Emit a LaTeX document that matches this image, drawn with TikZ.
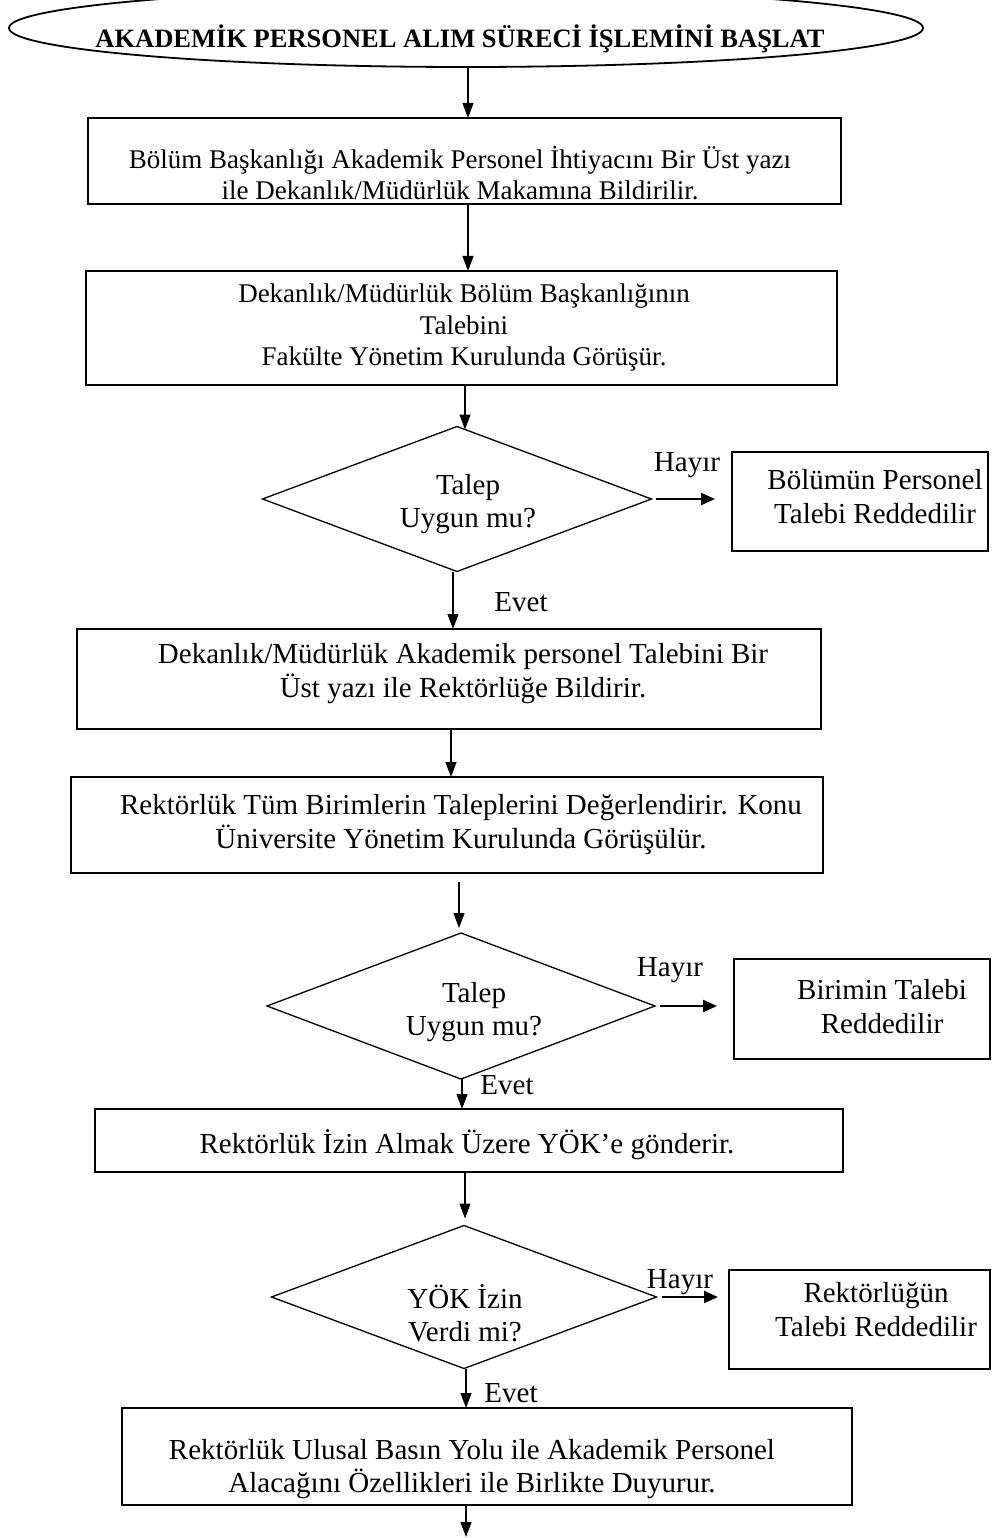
\documentclass[tikz,border=0pt]{standalone}
\usepackage{fontspec}
\setmainfont{Liberation Serif}
\usetikzlibrary{shapes.geometric,arrows.meta,calc}
\begin{document}
\begin{tikzpicture}[x=1pt,y=-1pt,
  box/.style={draw, line width=1.6pt, rectangle, inner sep=0pt, outer sep=0pt},
  decision/.style={draw, line width=1.3pt, diamond, inner sep=0pt, outer sep=0pt},
  startshape/.style={draw, line width=1.8pt, ellipse, inner sep=0pt, outer sep=0pt},
  txt/.style={align=center, inner sep=0pt, font=\fontsize{29}{33.5}\selectfont},
  smalltxt/.style={align=center, inner sep=0pt, font=\fontsize{27}{31.5}\selectfont},
  lbl/.style={inner sep=0pt, font=\fontsize{29}{33.5}\selectfont},
  arr/.style={line width=1.2pt, -{Triangle[length=15pt,width=11pt]}},
  harr/.style={line width=2.2pt, -{Triangle[length=14pt,width=12pt]}}
]
\useasboundingbox (0,0) rectangle (991,1538);
\fill[white] (0,0) rectangle (991,1538);

% start ellipse
\node[startshape, minimum width=914pt, minimum height=78pt] (e) at (466,28) {};
\node[inner sep=0pt, font=\fontsize{26.5}{30}\selectfont\bfseries] (et) at (460,39) {AKADEMİK PERSONEL ALIM SÜRECİ İŞLEMİNİ BAŞLAT};

% process boxes
\node[box, minimum width=753pt, minimum height=86pt] (b1) at (464.5,161) {};
\node[smalltxt] (b1t) at (460,173) {Bölüm Başkanlığı Akademik Personel İhtiyacını Bir Üst yazı\\ile Dekanlık/Müdürlük Makamına Bildirilir.};

\node[box, minimum width=751pt, minimum height=114pt] (b2) at (461.5,328) {};
\node[smalltxt] (b2t) at (464,328) {Dekanlık/Müdürlük Bölüm Başkanlığının\\Talebini\\Fakülte Yönetim Kurulunda Görüşür.};

\node[box, minimum width=744pt, minimum height=100pt] (b3) at (449,679) {};
\node[txt] (b3t) at (463,673.5) {Dekanlık/Müdürlük Akademik personel Talebini Bir\\Üst yazı ile Rektörlüğe Bildirir.};

\node[box, minimum width=752pt, minimum height=96pt] (b4) at (447,825) {};
\node[txt] (b4t) at (461,824.5) {Rektörlük Tüm Birimlerin Taleplerini Değerlendirir. Konu\\Üniversite Yönetim Kurulunda Görüşülür.};

\node[box, minimum width=748pt, minimum height=63pt] (b5) at (469,1140.5) {};
\node[txt] (b5t) at (467,1145) {Rektörlük İzin Almak Üzere YÖK’e gönderir.};

\node[box, minimum width=730pt, minimum height=97pt] (b6) at (487,1456.5) {};
\node[txt] (b6t) at (472,1469) {Rektörlük Ulusal Basın Yolu ile Akademik Personel\\Alacağını Özellikleri ile Birlikte Duyurur.};

% decisions
\node[decision, minimum width=389pt, minimum height=145pt] (d1) at (457,499) {};
\node[txt] (d1t) at (468,504) {Talep\\Uygun mu?};
\node[decision, minimum width=388pt, minimum height=146pt] (d2) at (461,1006) {};
\node[txt] (d2t) at (474,1012) {Talep\\Uygun mu?};
\node[decision, minimum width=385pt, minimum height=143pt] (d3) at (464,1297) {};
\node[txt] (d3t) at (465,1313) {YÖK İzin\\Verdi mi?};

% rejection boxes
\node[box, minimum width=256pt, minimum height=99pt] (r1) at (860,501.5) {};
\node[txt] (r1t) at (875,496.5) {Bölümün Personel\\Talebi Reddedilir};
\node[box, minimum width=256pt, minimum height=100pt] (r2) at (862,1009) {};
\node[txt] (r2t) at (882,1006.5) {Birimin Talebi\\Reddedilir};
\node[box, minimum width=261pt, minimum height=99pt] (r3) at (859.5,1319.5) {};
\node[txt] (r3t) at (876,1309.5) {Rektörlüğün\\Talebi Reddedilir};

% labels
\node[lbl] (h1) at (687,465) {Hayır};
\node[lbl] (h2) at (670,970) {Hayır};
\node[lbl] (h3) at (680,1282) {Hayır};
\node[lbl] (y1) at (521,602) {Evet};
\node[lbl] (y2) at (507,1085) {Evet};
\node[lbl] (y3) at (511,1393) {Evet};

% vertical connectors
\draw[arr] ($(e.south)+(2,0)$) -- ($(e.south |- b1.north)+(2,0)$);
\draw[arr] ($(b1.south)+(3.5,0)$) -- ($(b1.south |- b2.north)+(3.5,0)$);
\draw[arr] ($(b2.south)+(3.5,0)$) -- ($(b2.south |- d1.north)+(3.5,3)$);
\draw[arr] ($(d1.south)+(-4,0)$) -- ($(d1.south |- b3.north)+(-4,0)$);
\draw[arr] ($(b3.south)+(2,0)$) -- ($(b3.south |- b4.north)+(2,0)$);
\draw[arr] ($(b4.south)+(12,9)$) -- ($(b4.south |- d2.north)+(12,-5)$);
\draw[arr] ($(d2.south)+(1,0)$) -- ($(d2.south |- b5.north)+(1,0)$);
\draw[arr] ($(b5.south)+(-4,0)$) -- ($(b5.south |- d3.north)+(-4,-7)$);
\draw[arr] ($(d3.south)+(2,0)$) -- ($(d3.south |- b6.north)+(2,0)$);
\coordinate (endpt) at (466,1537);
\draw[arr] (b6.south -| endpt) -- (endpt);

% no branches
\draw[harr] ($(d1.east)+(4,0)$) -- ($(d1.east -| r1.west)+(-17,0)$);
\draw[harr] ($(d2.east)+(5,0)$) -- ($(d2.east -| r2.west)+(-17,0)$);
\draw[harr] ($(d3.east)+(5.5,0)$) -- ($(d3.east -| r3.west)+(-11,0)$);
\end{tikzpicture}
\end{document}
